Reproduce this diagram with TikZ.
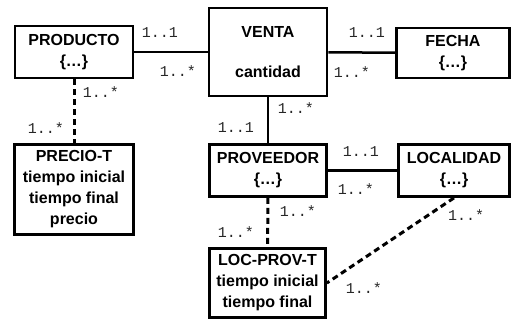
\documentclass[tikz,border=0pt]{standalone}
\usepackage{fontspec}
\setmainfont{Liberation Sans}
\setmonofont{Liberation Mono}
\begin{document}
\begin{tikzpicture}[x=1pt, y=1pt]
	\tikzstyle{entity}=[rectangle, draw=black, line width=2.8pt, align=center, inner sep=0pt, font=\fontsize{16}{21}\selectfont\bfseries]
	\tikzstyle{card}=[inner sep=0pt, text=black!85, font=\fontsize{15}{15}\selectfont\ttfamily]
	\tikzstyle{link}=[line width=2.5pt]
	\tikzstyle{tlink}=[line width=3pt, dash pattern=on 6pt off 4pt]
	\useasboundingbox (0, 0) rectangle (512, 320);
	\draw node[entity, minimum width=118, minimum height=52] at (74, 268) (producto) {PRODUCTO\\\{…\}};
	\draw node[entity, minimum width=118, minimum height=88] at (268, 268) (venta) {VENTA\\[19pt]cantidad};
	\draw node[entity, minimum width=113, minimum height=50] at (453, 267) (fecha) {FECHA\\\{…\}};
	\draw node[entity, minimum width=119, minimum height=90] at (74, 130.5) (preciot) {PRECIO-T\\tiempo inicial\\tiempo final\\precio};
	\draw node[entity, minimum width=117, minimum height=52] at (268, 149.5) (proveedor) {PROVEEDOR\\\{…\}};
	\draw node[entity, minimum width=111, minimum height=52] at (454, 149.5) (localidad) {LOCALIDAD\\\{…\}};
	\draw node[entity, minimum width=116, minimum height=69] at (267.5, 37) (locprovt) {LOC-PROV-T\\tiempo inicial\\tiempo final};
	
	\draw [link]  (producto) -- (venta);
	\draw [link]  (venta) -- (fecha);
	\draw [link]  (venta) -- (proveedor);
	\draw [link]  (proveedor) -- (localidad);
	\draw [tlink] (producto) -- (preciot);
	\draw [tlink] (proveedor) -- (locprovt);
	\draw [tlink] (localidad.south) -- (locprovt.east);
	
	\draw node[card] at (160, 287) (c1) {1..1};
	\draw node[card] at (178, 249) (c2) {1..*};
	\draw node[card] at (367, 287) (c3) {1..1};
	\draw node[card] at (352, 248) (c4) {1..*};
	\draw node[card] at (101, 228) (c5) {1..*};
	\draw node[card] at (46, 192) (c6) {1..*};
	\draw node[card] at (296, 212) (c7) {1..*};
	\draw node[card] at (236, 192) (c8) {1..1};
	\draw node[card] at (361, 168) (c9) {1..1};
	\draw node[card] at (356, 131) (c10) {1..*};
	\draw node[card] at (298, 109) (c11) {1..*};
	\draw node[card] at (236, 88) (c12) {1..*};
	\draw node[card] at (466, 105) (c13) {1..*};
	\draw node[card] at (364, 32) (c14) {1..*};
\end{tikzpicture}
\end{document}
